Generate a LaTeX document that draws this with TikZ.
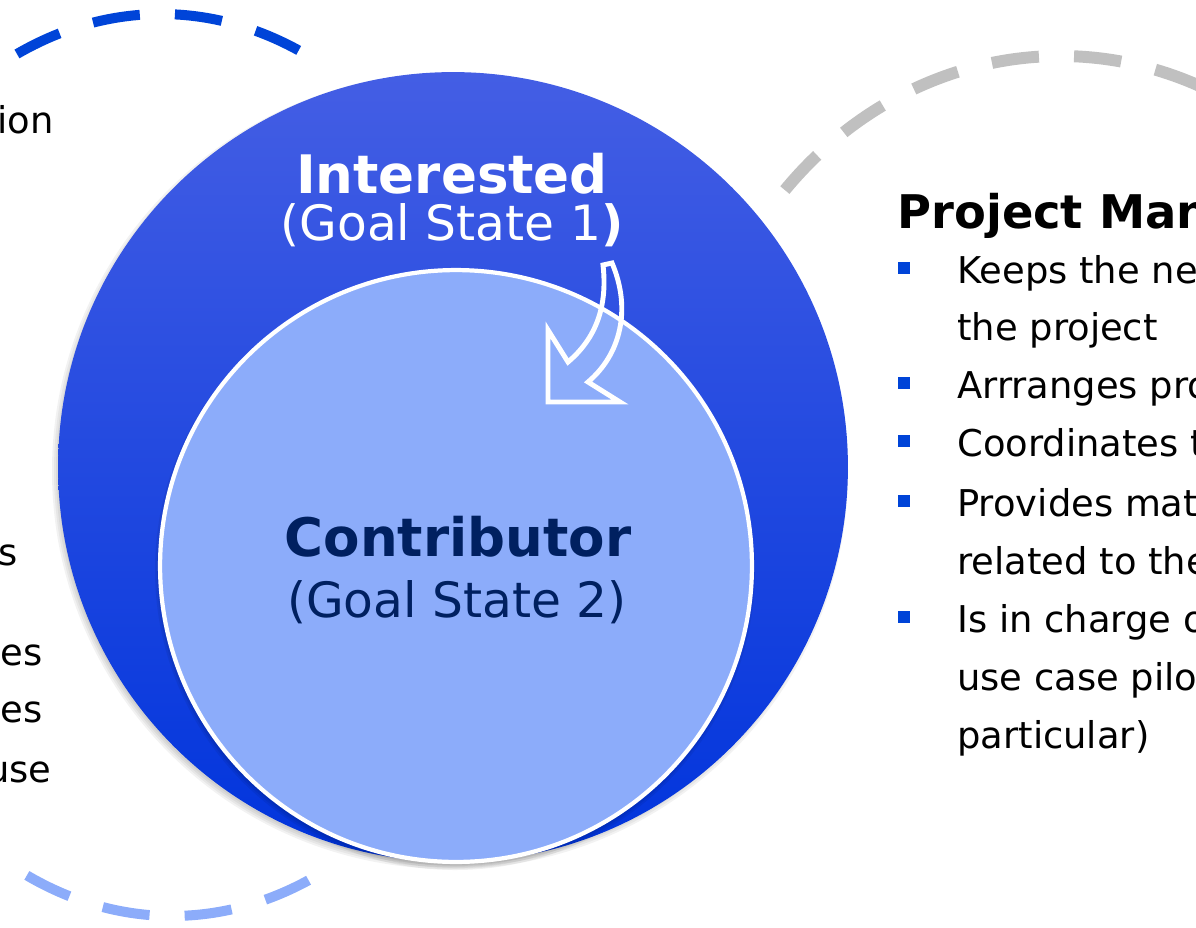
\documentclass[tikz,border=0pt]{standalone}
\usepackage{fontspec}
\setmainfont{DejaVu Sans}
\usetikzlibrary{calc}
\definecolor{outerTop}{RGB}{68,94,228}
\definecolor{outerMid}{RGB}{8,56,224}
\definecolor{outerBot}{RGB}{0,52,220}
\definecolor{innerFill}{RGB}{140,172,250}
\definecolor{navy}{RGB}{0,32,96}
\definecolor{dashBlue}{RGB}{0,68,216}
\definecolor{dashGrey}{RGB}{192,192,192}
\tikzset{
  dashring/.style={line width=5.7pt, dash pattern=on 27pt off 20pt},
  bodytext/.style={anchor=base west, inner sep=0pt, font=\fontsize{21}{25}\selectfont},
  lefttext/.style={anchor=base east, inner sep=0pt, font=\fontsize{21}{25}\selectfont},
  bulletsq/.style={fill=dashBlue, minimum size=6.3pt, inner sep=0pt},
  titletext/.style={anchor=base, inner sep=0pt, font=\fontsize{30.2}{36}\selectfont\bfseries},
  goaltext/.style={anchor=base, inner sep=0pt, font=\fontsize{27.7}{33}\selectfont},
}

\begin{document}
\begin{tikzpicture}[x=0.02cm, y=-0.02cm]
    \useasboundingbox (0,0) rectangle (1196,927);
    \clip (0,0) rectangle (1196,927);

    \draw[dashring, dashBlue] (161,465) ++(245.7:350 and 451) arc[start angle=245.7, end angle=294.3, x radius=350, y radius=451];
    \draw[dashring, innerFill] (172,465) ++(114.5:350 and 451) arc[start angle=114.5, end angle=65.5, x radius=350, y radius=451];
    \draw[dashring, dashGrey, line width=6.8pt] (1060,466) ++(222.3:372 and 410) arc[start angle=222.3, end angle=300, x radius=372, y radius=410];

    \foreach \r in {0,2,4,6}
        \fill[black, opacity=0.05] (450,471) circle (395+\r-3);
    \node[circle, inner sep=0pt, minimum size=15.8cm, top color=outerTop, middle color=outerMid, bottom color=outerBot] (outer) at (453,467) {};

    \foreach \r in {0,2,4}
        \fill[black, opacity=0.06] (455,570) circle (296+\r);
    \node[circle, inner sep=0pt, minimum size=11.84cm, fill=innerFill, draw=white, line width=2.4pt] (inner) at (456,566) {};

    \draw[white, line width=2.8pt, line join=miter] (603,265) .. controls (607,300) and (600,335) .. (568,362) -- (548,330) -- (548,402) -- (620,402) -- (588,382) .. controls (620,355) and (632,310) .. (612,263) -- cycle;

    \node[titletext, text=white] (interested) at (452,193) {Interested};
    \node[goaltext, text=white] (goal1) at (452,240) {(Goal State 1\textbf{)}};
    \node[titletext, text=navy] (contributor) at (458,556) {Contributor};
    \node[goaltext, text=navy] (goal2) at (457,617) {(Goal State 2)};

    \node[anchor=base west, inner sep=0pt, font=\fontsize{26.4}{32}\selectfont\bfseries] (pm) at (897,228) {Project Man};
    \foreach \y in {283,398,456,516,632}
        \node[bulletsq] (b\y) at (904,\y-15) {};
    \foreach \y/\t in {283/Keeps the ne, 340/the project, 398/Arrranges pro, 456/Coordinates t, 516/Provides mat, 574/related to the, 632/Is in charge o, 690/use case pilo, 748/particular)}
        \node[bodytext] (l\y) at (957,\y) {\t};

    \foreach \x/\y/\t in {54/133/ion, 18/565/s, 43/665/es, 43/722/es, 52/782/use}
        \node[lefttext] (r\y) at (\x,\y) {\t};
\end{tikzpicture}
\end{document}
